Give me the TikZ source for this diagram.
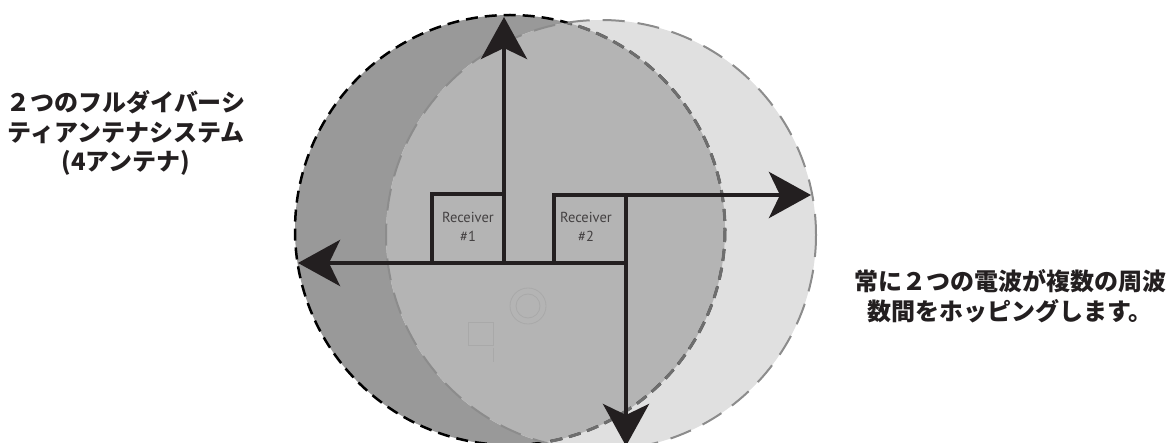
\documentclass[tikz,border=0pt]{standalone}
\usepackage{fontspec}
\newfontfamily\cjk{Noto Sans CJK JP}
\newfontfamily\rcv{PT Sans}
\usetikzlibrary{arrows.meta}
\definecolor{darkfill}{HTML}{999999}
\definecolor{midfill}{HTML}{B4B4B4}
\definecolor{lightfill}{HTML}{E0E0E0}
\definecolor{ink}{HTML}{231F20}
\definecolor{rimgray}{HTML}{8C8C8C}
\definecolor{innerrim}{HTML}{6E6E6E}
\definecolor{faint}{HTML}{A9A9A9}
\begin{document}
\begin{tikzpicture}[x=1pt,y=-1pt,
  wire/.style={draw=ink, line width=4.5pt},
  wirearrow/.style={wire, -{Stealth[length=42pt,width=46pt,inset=11pt]}},
  lbl/.style={font=\cjk\bfseries\fontsize{24}{29.5}\selectfont, text=ink, align=center, inner sep=0pt},
  rcvtext/.style={font=\rcv\fontsize{14.5}{19}\selectfont, text=ink!85, align=center, inner sep=0pt},
  darkrim/.style={line width=2.5pt, dash pattern=on 12pt off 7pt},
  lightrim/.style={draw=rimgray, line width=2pt, dash pattern=on 22pt off 13pt},
  faintline/.style={draw=faint, line width=0.8pt}]
\useasboundingbox (0,0) rectangle (1170,443);
% circles
\coordinate (c1) at (510,230);
\coordinate (c2) at (601,235);
\fill[darkfill] (c1) circle[radius=215];
\fill[lightfill] (c2) circle[radius=215];
\begin{scope}
  \clip (c1) circle[radius=215];
  \fill[midfill] (c2) circle[radius=215];
\end{scope}
\draw[darkrim, draw=black] (c1) circle[radius=215];
\begin{scope}
  \clip (c2) circle[radius=215];
  \draw[darkrim, draw=innerrim, line width=3pt] (c1) circle[radius=215];
\end{scope}
\draw[lightrim] (c2) circle[radius=215];
% faint logo
\draw[faintline] (528,306) circle[radius=18] (528,306) circle[radius=12];
\draw[faintline] (468,322) rectangle (493,345);
\draw[faintline] (493,348) -- (493,362);
% wiring coordinates
\coordinate (leftTip) at (298,263);
\coordinate (topTip) at (504,17);
\coordinate (rightTip) at (811,195);
\coordinate (downTip) at (626,446);
\coordinate (corner) at (626,263);
\coordinate (topBase) at (504,263);
\coordinate (r1a) at (432,263);
\coordinate (r1b) at (432,194);
\coordinate (r1c) at (504,194);
\coordinate (r2a) at (554,263);
\coordinate (r2b) at (554,195);
\coordinate (junction) at (626,195);
% receivers
\node[rcvtext] (rx1) at (468,227) {Receiver\\\#1};
\node[rcvtext] (rx2) at (586,227) {Receiver\\\#2};
% lines
\draw[wire, line cap=rect] (r1a) -- (r1b) -- (r1c);
\draw[wirearrow] (corner) -- (leftTip);
\draw[wirearrow] (topBase) -- (topTip);
\draw[wirearrow] (r2a) -- (r2b) -- (rightTip);
\draw[wirearrow] (junction) -- (downTip);
% labels
\node[lbl] (leftlbl) at (126,133) {２つのフルダイバーシ\\ティアンテナシステム\\(4アンテナ)};
\node[lbl] (rightlbl) at (1010,296) {常に２つの電波が複数の周波\\数間をホッピングします。};
\end{tikzpicture}
\end{document}
